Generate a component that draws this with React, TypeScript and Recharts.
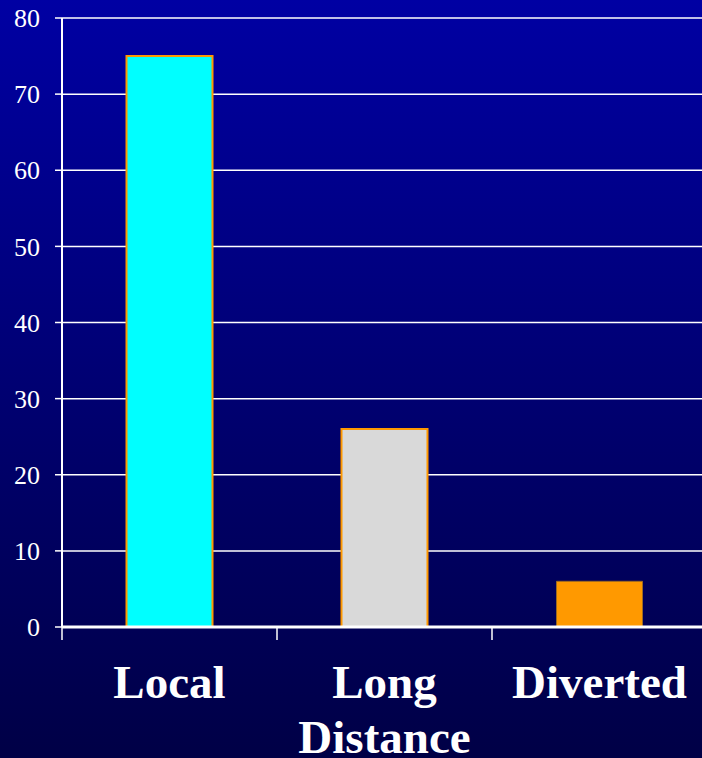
import { BarChart, Bar, XAxis, YAxis, CartesianGrid, Cell } from 'recharts';

const categories = ['Local', 'Long Distance', 'Diverted'];
const values = [75, 26, 6];
const yTicks = [0, 10, 20, 30, 40, 50, 60, 70, 80];

const barFills = ['#00FFFF', '#D9D9D9', '#FF9900'];
const barStrokes = ['#FF9900', '#FF9900', '#9C6A22'];

const SERIF = "'Liberation Serif', 'Times New Roman', serif";

const data = categories.map((name, i) => ({ name, value: values[i] }));

function CategoryTick(props: any) {
  const { x, y, payload } = props;
  const half = payload?.offset ?? 107.5;
  const words: string[] = String(payload.value).split(' ');
  return (
    <g>
      <line x1={x - half} y1={y} x2={x - half} y2={y + 13} stroke="#fff" strokeWidth={1.5} />
      <text
        x={x}
        y={y + 71}
        textAnchor="middle"
        fill="#fff"
        fontFamily={SERIF}
        fontWeight="bold"
        fontSize={47}
      >
        {words.map((w, i) => (
          <tspan key={i} x={x} dy={i === 0 ? 0 : 55}>
            {w}
          </tspan>
        ))}
      </text>
    </g>
  );
}

export default function App() {
  return (
    <div
      style={{
        position: 'fixed',
        left: 0,
        top: 0,
        width: 702,
        height: 758,
        overflow: 'hidden',
        background: 'linear-gradient(to bottom, #0000A3 0%, #00006E 55%, #000046 100%)',
      }}
    >
      <BarChart
        width={710}
        height={758}
        data={data}
        margin={{ top: 18, right: 3, bottom: 0, left: 0 }}
        barCategoryGap="30%"
      >
        <CartesianGrid vertical={false} stroke="#ffffff" strokeWidth={1.5} />
        <YAxis
          width={62}
          domain={[0, 80]}
          ticks={yTicks}
          interval={0}
          axisLine={{ stroke: '#fff', strokeWidth: 2 }}
          tickLine={{ stroke: '#fff', strokeWidth: 1.5 }}
          tickSize={7}
          tickMargin={15}
          tick={{ fill: '#fff', fontSize: 26, fontFamily: SERIF }}
        />
        <XAxis
          dataKey="name"
          height={131}
          interval={0}
          axisLine={{ stroke: '#fff', strokeWidth: 3 }}
          tickLine={false}
          tickSize={0}
          tickMargin={0}
          tick={<CategoryTick />}
        />
        <Bar dataKey="value" isAnimationActive={false} strokeWidth={2}>
          {data.map((d, i) => (
            <Cell key={d.name} fill={barFills[i]} stroke={barStrokes[i]} strokeWidth={i === 2 ? 1 : 2} />
          ))}
        </Bar>
      </BarChart>
    </div>
  );
}
